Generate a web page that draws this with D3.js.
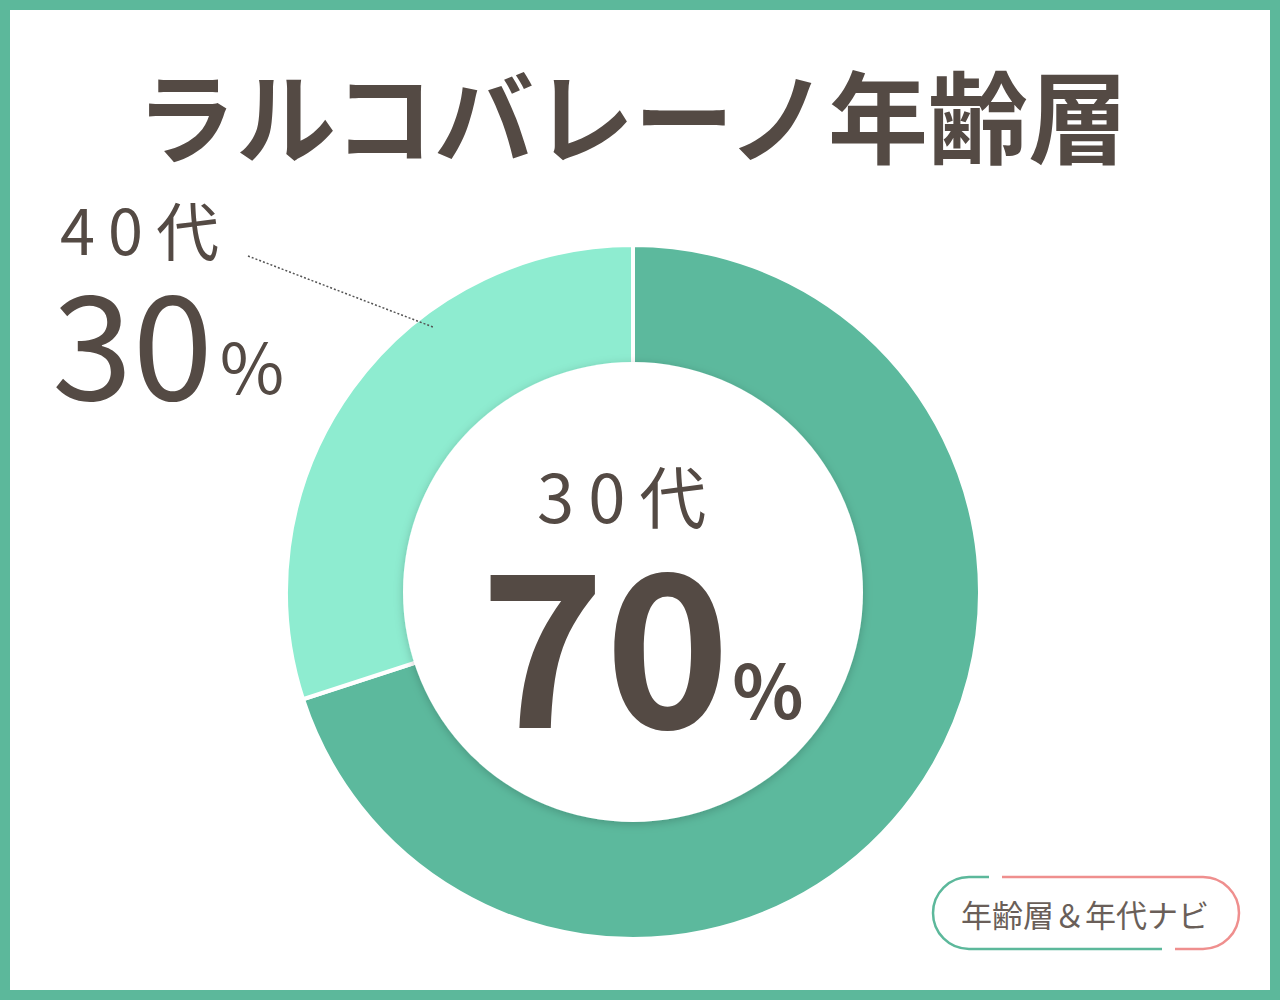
<!DOCTYPE html>
<html><head><meta charset="utf-8">
<script src="https://cdn.jsdelivr.net/npm/d3@7"></script>
<style>html,body{margin:0;padding:0;background:#fff;}svg{display:block;}</style>
</head><body>
<script>
const title = "ラルコバレーノ年齢層";
const categories = ["30代", "40代"];
const values = [70, 30];
const colors = ["#5cb99d", "#8eecd0"];
const badgeText = "年齢層＆年代ナビ";

const W = 1280, H = 1000;
const svg = d3.select("body").append("svg").attr("width", W).attr("height", H);
const font = "'Noto Sans CJK JP', 'Noto Sans', sans-serif";
const ink = "#544a44";

const defs = svg.append("defs");
const f = defs.append("filter").attr("id", "sh").attr("x", "-20%").attr("y", "-20%").attr("width", "140%").attr("height", "140%");
f.append("feDropShadow").attr("dx", 0).attr("dy", 2).attr("stdDeviation", 5).attr("flood-color", "#000").attr("flood-opacity", 0.2);

// frame
svg.append("rect").attr("x", 0).attr("y", 0).attr("width", W).attr("height", H).attr("fill", "#5cb89b");
svg.append("rect").attr("x", 10).attr("y", 10).attr("width", W - 20).attr("height", H - 20).attr("fill", "#fff");

// title
svg.append("text").attr("x", 632).attr("y", 156).attr("text-anchor", "middle")
  .attr("font-family", font).attr("font-weight", 700).attr("font-size", 100)
  .attr("fill", ink).text(title);

// donut
const cx = 633, cy = 592, R = 347, r0 = 230;
const pie = d3.pie().sort(null).value(d => d)(values);
const arc = d3.arc().innerRadius(0).outerRadius(R);
const g = svg.append("g").attr("transform", `translate(${cx},${cy})`);
g.selectAll("path.slice").data(pie).join("path").attr("class", "slice")
  .attr("d", arc).attr("fill", (d, i) => colors[i])
  .attr("stroke", "#fff").attr("stroke-width", 4).attr("stroke-linejoin", "miter");
g.append("circle").attr("r", r0).attr("fill", "#fff").attr("filter", "url(#sh)");

// leader line
svg.append("line").attr("x1", 248).attr("y1", 256)
  .attr("x2", 433).attr("y2", 327)
  .attr("stroke", "#555").attr("stroke-width", 1.5).attr("stroke-dasharray", "2,2");

// 40代 label
svg.append("text").attr("x", 60).attr("y", 255).attr("font-family", font).attr("font-size", 63)
  .attr("letter-spacing", 13).attr("fill", ink).text(categories[1]);
svg.append("text").attr("x", 52).attr("y", 400).attr("font-family", font).attr("fill", ink)
  .attr("font-size", 145).text(values[1]);
svg.append("text").attr("x", 252).attr("y", 394).attr("text-anchor", "middle").attr("font-family", font).attr("fill", ink)
  .attr("font-size", 70).text("%");

// center label
svg.append("text").attr("x", 537).attr("y", 523).attr("font-family", font)
  .attr("font-size", 67).attr("letter-spacing", 14).attr("fill", ink).text(categories[0]);
svg.append("text").attr("x", 605).attr("y", 728).attr("text-anchor", "middle").attr("font-family", font).attr("fill", ink)
  .attr("font-size", 212).attr("font-weight", 700).text(values[0]);
svg.append("text").attr("x", 768).attr("y", 719).attr("text-anchor", "middle").attr("font-family", font).attr("fill", ink)
  .attr("font-size", 74).attr("font-weight", 700).text("%");

// badge
const bx0 = 933, bx1 = 1239, by0 = 877, by1 = 949, br = 36;
const green = "#5cb89b", pink = "#ef8f8e";
svg.append("path").attr("d", `M989,${by0} L${bx0 + br},${by0} A${br},${br} 0 0 0 ${bx0 + br},${by1} L1162,${by1}`)
  .attr("fill", "none").attr("stroke", green).attr("stroke-width", 2.5);
svg.append("path").attr("d", `M1002,${by0} L${bx1 - br},${by0} A${br},${br} 0 0 1 ${bx1 - br},${by1} L1175,${by1}`)
  .attr("fill", "none").attr("stroke", pink).attr("stroke-width", 2.5);
svg.append("text").attr("x", 1085).attr("y", 927).attr("text-anchor", "middle").attr("font-family", font)
  .attr("font-size", 31).attr("fill", "#6a5f59").text(badgeText);
</script>
</body></html>
